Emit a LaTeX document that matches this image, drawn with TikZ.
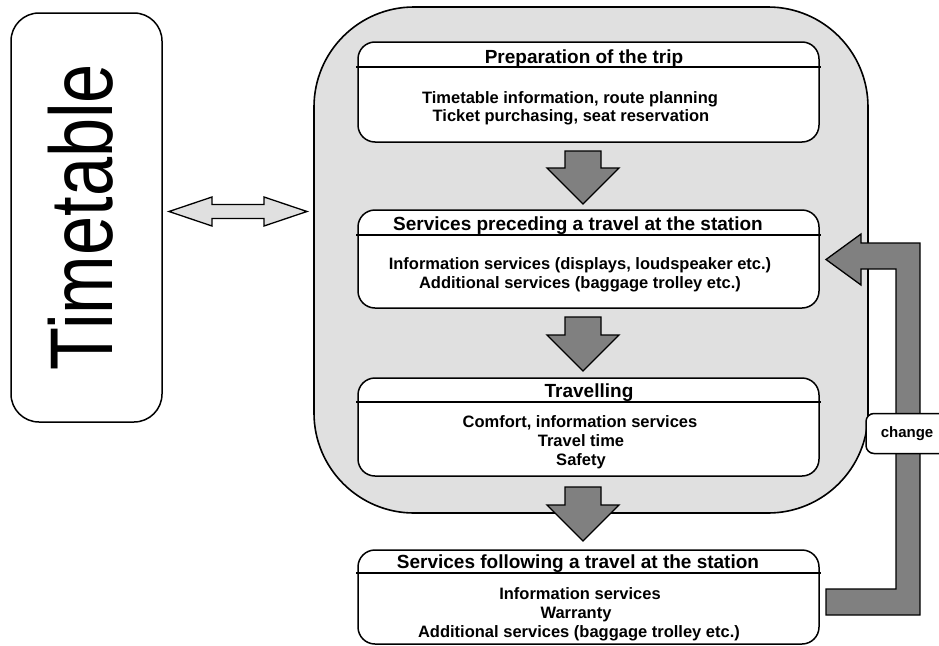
\documentclass[tikz,border=0pt]{standalone}
\usepackage{fontspec}
\setmainfont{Liberation Sans}
\definecolor{panelgrey}{RGB}{224,224,224}
\definecolor{arrowgrey}{RGB}{128,128,128}
\begin{document}
\begin{tikzpicture}[x=1pt,y=-1pt,
  box/.style={draw, line width=1.5pt, fill=white, rounded corners=17pt, inner sep=0pt, outer sep=0pt, minimum width=461pt},
  hdr/.style={anchor=base, inner sep=0pt, font=\fontsize{19}{22}\selectfont\bfseries},
  ctext/.style={anchor=base, inner sep=0pt, font=\fontsize{16.5}{19}\selectfont\bfseries},
  blockarrow/.style={draw, line width=1.3pt, fill=arrowgrey, line join=miter},
  hline/.style={line width=1.5pt}]
\useasboundingbox (0,0) rectangle (939,645);
\clip (0,0) rectangle (939,645);

% left timetable box
\node[draw, line width=1.5pt, rounded corners=28pt, minimum width=151pt, minimum height=409pt, inner sep=0pt] (ttbox) at (86.5,217.5) {};
\node[rotate=90, inner sep=0pt] (ttl) at (81,217) {\scalebox{0.79}[1]{\fontsize{89}{100}\selectfont Timetable}};

% big panel
\node[draw, line width=1.6pt, fill=panelgrey, rounded corners=100pt, minimum width=554pt, minimum height=506pt, inner sep=0pt] (panel) at (591,260) {};

% double arrow
\filldraw[draw, line width=1.3pt, fill=panelgrey, line join=miter]
  (169,211.5) -- (212,197) -- (212,204.5) -- (264,204.5) -- (264,197) -- (307,211.5)
  -- (264,226) -- (264,218.5) -- (212,218.5) -- (212,226) -- cycle;

% boxes
\node[box, minimum height=100pt] (b1) at (588.5,92) {};
\node[box, minimum height=98pt] (b2) at (588.5,259) {};
\node[box, minimum height=98pt] (b3) at (588.5,427) {};
\node[box, minimum height=94pt] (b4) at (588.5,597) {};

\draw[hline] ([xshift=-2pt,yshift=-25pt]b1.north west) -- ([xshift=2pt,yshift=-25pt]b1.north east);
\draw[hline] ([xshift=-2pt,yshift=-25pt]b2.north west) -- ([xshift=2pt,yshift=-25pt]b2.north east);
\draw[hline] ([xshift=-2pt,yshift=-24pt]b3.north west) -- ([xshift=2pt,yshift=-24pt]b3.north east);
\draw[hline] ([xshift=-2pt,yshift=-23pt]b4.north west) -- ([xshift=2pt,yshift=-23pt]b4.north east);

% headers
\node[hdr] (h1) at (584,63) {Preparation of the trip};
\node[hdr] (h2) at (578,230) {Services preceding a travel at the station};
\node[hdr] (h3) at (589,397) {Travelling};
\node[hdr] (h4) at (578,568) {Services following a travel at the station};

% contents
\node[ctext] (b1a) at (570,103) {Timetable information, route planning};
\node[ctext] (b1b) at (571,121) {Ticket purchasing, seat reservation};
\node[ctext] (b2a) at (580,269) {Information services (displays, loudspeaker etc.)};
\node[ctext] (b2b) at (580,288) {Additional services (baggage trolley etc.)};
\node[ctext] (b3a) at (580,427) {Comfort, information services};
\node[ctext] (b3b) at (581,446) {Travel time};
\node[ctext] (b3c) at (581,465) {Safety};
\node[ctext] (b4a) at (580,599) {Information services};
\node[ctext] (b4b) at (576,618) {Warranty};
\node[ctext] (b4c) at (579,637) {Additional services (baggage trolley etc.)};

% down block arrows
\newcommand\blockdown[2]{%
  \filldraw[blockarrow] (565,#1) -- (601,#1) -- (601,{#2-36}) -- (619,{#2-36}) -- (583,#2)
    -- (547,{#2-36}) -- (565,{#2-36}) -- cycle;}
\blockdown{151}{204}
\blockdown{317}{371}
\blockdown{487}{541}

% change return arrow
\filldraw[blockarrow]
  (826,615) -- (920,615) -- (920,243) -- (861,243) -- (861,234) -- (826,259.5)
  -- (861,285) -- (861,269) -- (896,269) -- (896,589) -- (826,589) -- cycle;

\node[draw, line width=1.5pt, fill=white, rounded corners=8pt, minimum width=82pt, minimum height=40pt, inner sep=0pt, font=\fontsize{15}{18}\selectfont\bfseries] (chg) at (907,433.5) {change};
\end{tikzpicture}
\end{document}
